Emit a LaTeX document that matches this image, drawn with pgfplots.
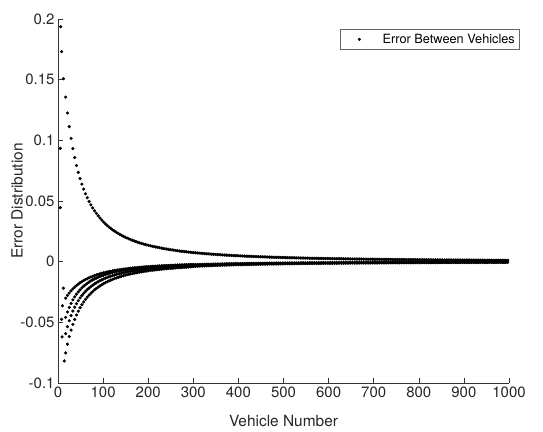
\documentclass[border=0pt]{standalone}
\usepackage{fontspec}
\setmainfont{TeX Gyre Heros}
\usepackage{pgfplots}
\usepackage{pgfplotstable}
\pgfplotsset{compat=1.18}

\pgfplotstableread{
x U L1 L2 L3 L4
17 0.1356 -0.0301 -0.0459 -0.0593 -0.0752
21 0.1225 -0.0278 -0.0415 -0.0536 -0.0680
25 0.1113 -0.0258 -0.0377 -0.0487 -0.0617
29 0.1016 -0.0240 -0.0344 -0.0444 -0.0564
33 0.0932 -0.0224 -0.0315 -0.0407 -0.0517
37 0.0858 -0.0210 -0.0290 -0.0375 -0.0476
41 0.0793 -0.0196 -0.0268 -0.0347 -0.0440
45 0.0736 -0.0185 -0.0249 -0.0322 -0.0408
49 0.0685 -0.0174 -0.0232 -0.0299 -0.0380
53 0.0639 -0.0164 -0.0216 -0.0279 -0.0355
57 0.0598 -0.0155 -0.0202 -0.0261 -0.0332
61 0.0560 -0.0147 -0.0190 -0.0245 -0.0311
65 0.0527 -0.0140 -0.0178 -0.0230 -0.0292
69 0.0496 -0.0133 -0.0168 -0.0217 -0.0275
73 0.0468 -0.0126 -0.0158 -0.0205 -0.0260
77 0.0443 -0.0120 -0.0150 -0.0194 -0.0246
81 0.0419 -0.0115 -0.0142 -0.0183 -0.0232
85 0.0398 -0.0109 -0.0135 -0.0174 -0.0221
89 0.0378 -0.0105 -0.0128 -0.0165 -0.0210
93 0.0360 -0.0100 -0.0122 -0.0157 -0.0200
97 0.0343 -0.0096 -0.0116 -0.0150 -0.0190
101 0.0327 -0.0092 -0.0111 -0.0143 -0.0181
105 0.0312 -0.0089 -0.0106 -0.0136 -0.0173
109 0.0299 -0.0085 -0.0101 -0.0131 -0.0166
113 0.0286 -0.0082 -0.0097 -0.0125 -0.0159
117 0.0274 -0.0079 -0.0093 -0.0120 -0.0152
121 0.0263 -0.0076 -0.0089 -0.0115 -0.0146
125 0.0253 -0.0073 -0.0086 -0.0111 -0.0140
129 0.0243 -0.0071 -0.0082 -0.0106 -0.0135
133 0.0234 -0.0068 -0.0079 -0.0102 -0.0130
137 0.0225 -0.0066 -0.0076 -0.0098 -0.0125
141 0.0217 -0.0064 -0.0073 -0.0095 -0.0120
145 0.0209 -0.0062 -0.0071 -0.0091 -0.0116
149 0.0202 -0.0060 -0.0068 -0.0088 -0.0112
153 0.0195 -0.0058 -0.0066 -0.0085 -0.0108
157 0.0188 -0.0056 -0.0064 -0.0082 -0.0104
161 0.0182 -0.0054 -0.0062 -0.0080 -0.0101
165 0.0176 -0.0053 -0.0060 -0.0077 -0.0098
169 0.0171 -0.0051 -0.0058 -0.0075 -0.0095
173 0.0165 -0.0050 -0.0056 -0.0072 -0.0092
177 0.0160 -0.0048 -0.0054 -0.0070 -0.0089
181 0.0155 -0.0047 -0.0052 -0.0068 -0.0086
185 0.0151 -0.0046 -0.0051 -0.0066 -0.0084
189 0.0146 -0.0045 -0.0049 -0.0064 -0.0081
193 0.0142 -0.0043 -0.0048 -0.0062 -0.0079
197 0.0138 -0.0042 -0.0047 -0.0060 -0.0077
201 0.0134 -0.0041 -0.0045 -0.0059 -0.0074
205 0.0131 -0.0040 -0.0044 -0.0057 -0.0073
209 0.0127 -0.0039 -0.0043 -0.0056 -0.0070
213 0.0124 -0.0038 -0.0042 -0.0054 -0.0069
217 0.0121 -0.0037 -0.0041 -0.0053 -0.0067
221 0.0118 -0.0036 -0.0040 -0.0052 -0.0065
225 0.0115 -0.0035 -0.0039 -0.0050 -0.0064
229 0.0112 -0.0035 -0.0038 -0.0049 -0.0062
233 0.0109 -0.0034 -0.0037 -0.0048 -0.0060
237 0.0106 -0.0033 -0.0036 -0.0046 -0.0059
241 0.0104 -0.0032 -0.0035 -0.0045 -0.0058
245 0.0101 -0.0032 -0.0034 -0.0044 -0.0056
249 0.0099 -0.0031 -0.0034 -0.0043 -0.0055
253 0.0097 -0.0030 -0.0033 -0.0042 -0.0054
257 0.0095 -0.0030 -0.0032 -0.0042 -0.0053
261 0.0092 -0.0029 -0.0031 -0.0040 -0.0051
265 0.0090 -0.0028 -0.0030 -0.0039 -0.0050
269 0.0088 -0.0028 -0.0030 -0.0038 -0.0049
273 0.0086 -0.0027 -0.0029 -0.0038 -0.0048
277 0.0085 -0.0027 -0.0029 -0.0037 -0.0047
281 0.0083 -0.0026 -0.0028 -0.0036 -0.0046
285 0.0081 -0.0026 -0.0027 -0.0035 -0.0045
289 0.0079 -0.0025 -0.0027 -0.0035 -0.0044
293 0.0078 -0.0025 -0.0026 -0.0034 -0.0043
297 0.0076 -0.0024 -0.0026 -0.0033 -0.0042
}\headtable

\pgfplotstableread{
x U La Lb
301 0.00747 -0.00247 -0.00389
305 0.00733 -0.00242 -0.00381
309 0.00720 -0.00238 -0.00374
313 0.00706 -0.00233 -0.00367
317 0.00693 -0.00229 -0.00360
321 0.00679 -0.00224 -0.00353
325 0.00666 -0.00220 -0.00346
329 0.00654 -0.00216 -0.00340
333 0.00643 -0.00212 -0.00334
337 0.00631 -0.00209 -0.00328
341 0.00620 -0.00205 -0.00322
345 0.00608 -0.00201 -0.00316
349 0.00598 -0.00198 -0.00311
353 0.00588 -0.00194 -0.00306
357 0.00577 -0.00191 -0.00300
361 0.00567 -0.00187 -0.00295
365 0.00557 -0.00184 -0.00290
369 0.00548 -0.00181 -0.00285
373 0.00539 -0.00178 -0.00281
377 0.00531 -0.00175 -0.00276
381 0.00522 -0.00172 -0.00272
385 0.00513 -0.00169 -0.00267
389 0.00505 -0.00167 -0.00263
393 0.00498 -0.00164 -0.00259
397 0.00490 -0.00162 -0.00255
401 0.00483 -0.00159 -0.00251
405 0.00475 -0.00157 -0.00247
409 0.00468 -0.00155 -0.00243
413 0.00461 -0.00152 -0.00240
417 0.00454 -0.00150 -0.00236
421 0.00447 -0.00147 -0.00233
425 0.00440 -0.00145 -0.00229
429 0.00434 -0.00143 -0.00226
433 0.00428 -0.00141 -0.00223
437 0.00422 -0.00139 -0.00219
441 0.00416 -0.00137 -0.00216
445 0.00410 -0.00135 -0.00213
449 0.00404 -0.00133 -0.00210
453 0.00399 -0.00131 -0.00207
457 0.00393 -0.00130 -0.00205
461 0.00388 -0.00128 -0.00202
465 0.00382 -0.00126 -0.00199
469 0.00377 -0.00124 -0.00196
473 0.00372 -0.00123 -0.00194
477 0.00367 -0.00121 -0.00191
481 0.00362 -0.00120 -0.00189
485 0.00357 -0.00118 -0.00186
489 0.00353 -0.00117 -0.00184
493 0.00348 -0.00115 -0.00181
497 0.00344 -0.00114 -0.00179
501 0.00339 -0.00112 -0.00176
505 0.00335 -0.00111 -0.00174
509 0.00331 -0.00110 -0.00172
513 0.00327 -0.00108 -0.00170
517 0.00323 -0.00107 -0.00168
521 0.00319 -0.00105 -0.00166
525 0.00315 -0.00104 -0.00164
529 0.00311 -0.00103 -0.00162
533 0.00308 -0.00102 -0.00160
537 0.00304 -0.00100 -0.00158
541 0.00301 -0.00099 -0.00156
545 0.00297 -0.00098 -0.00154
549 0.00294 -0.00097 -0.00152
553 0.00290 -0.00096 -0.00151
557 0.00287 -0.00094 -0.00149
561 0.00283 -0.00093 -0.00148
565 0.00280 -0.00092 -0.00146
569 0.00277 -0.00091 -0.00144
573 0.00274 -0.00090 -0.00143
577 0.00271 -0.00089 -0.00141
581 0.00268 -0.00088 -0.00140
585 0.00265 -0.00087 -0.00138
589 0.00262 -0.00086 -0.00137
593 0.00259 -0.00086 -0.00135
597 0.00257 -0.00085 -0.00134
601 0.00254 -0.00084 -0.00132
605 0.00251 -0.00083 -0.00131
609 0.00248 -0.00082 -0.00130
613 0.00246 -0.00081 -0.00128
617 0.00243 -0.00080 -0.00127
621 0.00241 -0.00080 -0.00125
625 0.00238 -0.00079 -0.00124
629 0.00236 -0.00078 -0.00123
633 0.00233 -0.00077 -0.00122
637 0.00231 -0.00076 -0.00120
641 0.00228 -0.00076 -0.00119
645 0.00226 -0.00075 -0.00118
649 0.00224 -0.00074 -0.00117
653 0.00222 -0.00073 -0.00115
657 0.00219 -0.00072 -0.00114
661 0.00217 -0.00072 -0.00113
665 0.00215 -0.00071 -0.00112
669 0.00213 -0.00070 -0.00111
673 0.00211 -0.00070 -0.00110
677 0.00209 -0.00069 -0.00109
681 0.00207 -0.00068 -0.00108
685 0.00205 -0.00068 -0.00107
689 0.00203 -0.00067 -0.00106
693 0.00201 -0.00066 -0.00105
697 0.00200 -0.00066 -0.00104
701 0.00198 -0.00065 -0.00103
705 0.00196 -0.00065 -0.00102
709 0.00194 -0.00064 -0.00101
713 0.00192 -0.00063 -0.00100
717 0.00191 -0.00063 -0.00099
721 0.00189 -0.00062 -0.00098
725 0.00187 -0.00062 -0.00097
729 0.00185 -0.00061 -0.00096
733 0.00184 -0.00061 -0.00095
737 0.00182 -0.00060 -0.00095
741 0.00181 -0.00060 -0.00094
745 0.00179 -0.00059 -0.00093
749 0.00177 -0.00058 -0.00092
753 0.00176 -0.00058 -0.00091
757 0.00174 -0.00057 -0.00091
761 0.00173 -0.00057 -0.00090
765 0.00171 -0.00056 -0.00089
769 0.00170 -0.00056 -0.00088
773 0.00168 -0.00055 -0.00087
777 0.00167 -0.00055 -0.00087
781 0.00165 -0.00055 -0.00086
785 0.00164 -0.00054 -0.00085
789 0.00163 -0.00054 -0.00084
793 0.00161 -0.00053 -0.00084
797 0.00160 -0.00053 -0.00083
801 0.00158 -0.00052 -0.00083
805 0.00157 -0.00052 -0.00082
809 0.00156 -0.00051 -0.00081
813 0.00155 -0.00051 -0.00081
817 0.00153 -0.00051 -0.00080
821 0.00152 -0.00050 -0.00080
825 0.00151 -0.00050 -0.00079
829 0.00150 -0.00049 -0.00078
833 0.00148 -0.00049 -0.00077
837 0.00147 -0.00049 -0.00077
841 0.00146 -0.00048 -0.00076
845 0.00145 -0.00048 -0.00075
849 0.00144 -0.00047 -0.00075
853 0.00143 -0.00047 -0.00074
857 0.00142 -0.00047 -0.00074
861 0.00141 -0.00046 -0.00073
865 0.00140 -0.00046 -0.00073
869 0.00139 -0.00046 -0.00072
873 0.00138 -0.00046 -0.00072
877 0.00137 -0.00045 -0.00071
881 0.00136 -0.00045 -0.00071
885 0.00135 -0.00045 -0.00070
889 0.00134 -0.00044 -0.00070
893 0.00133 -0.00044 -0.00069
897 0.00132 -0.00044 -0.00069
901 0.00131 -0.00043 -0.00068
905 0.00130 -0.00043 -0.00068
909 0.00129 -0.00043 -0.00067
913 0.00128 -0.00042 -0.00067
917 0.00127 -0.00042 -0.00066
921 0.00126 -0.00042 -0.00066
925 0.00125 -0.00041 -0.00065
929 0.00124 -0.00041 -0.00065
933 0.00123 -0.00041 -0.00064
937 0.00123 -0.00040 -0.00064
941 0.00122 -0.00040 -0.00063
945 0.00121 -0.00040 -0.00063
949 0.00120 -0.00040 -0.00063
953 0.00119 -0.00039 -0.00062
957 0.00119 -0.00039 -0.00062
961 0.00118 -0.00039 -0.00061
965 0.00117 -0.00039 -0.00061
969 0.00116 -0.00038 -0.00061
973 0.00115 -0.00038 -0.00060
977 0.00115 -0.00038 -0.00060
981 0.00114 -0.00037 -0.00059
985 0.00113 -0.00037 -0.00059
989 0.00112 -0.00037 -0.00058
993 0.00111 -0.00037 -0.00058
997 0.00111 -0.00036 -0.00058
}\tailtable

\begin{document}
\begin{tikzpicture}
\path[use as bounding box] (-58bp,-49bp) rectangle (485bp,383bp);
\begin{axis}[
  at={(0,0)}, anchor=south west,
  scale only axis, width=451bp, height=364bp,
  xmin=0, xmax=1000, ymin=-0.1, ymax=0.2,
  axis x line*=bottom, axis y line*=left,
  axis line style={black!80, line width=0.6bp},
  tick align=inside, major tick length=5bp,
  tick style={black!80, line width=0.6bp},
  xtick={0,100,200,300,400,500,600,700,800,900,1000},
  xticklabels={0,100,200,300,400,500,600,700,800,900,1000},
  ytick={-0.1,-0.05,0,0.05,0.1,0.15,0.2},
  yticklabels={-0.1,-0.05,0,0.05,0.1,0.15,0.2},
  tick label style={font=\fontsize{15}{17}\selectfont, text=black!85},
  xlabel={Vehicle Number}, ylabel={Error Distribution},
  every axis x label/.style={at={(axis description cs:0.5,-0.1044)}, anchor=center, font=\fontsize{15.5}{18}\selectfont, text=black!85},
  every axis y label/.style={at={(axis description cs:-0.0909,0.5)}, anchor=center, rotate=90, font=\fontsize{15.5}{18}\selectfont, text=black!85},
  clip=false,
  legend style={at={(axis description cs:0.625,0.9725)}, anchor=north west,
    draw=black!60, line width=0.5bp, font=\fontsize{12.8}{15}\selectfont,
    inner xsep=2bp, inner ysep=2.7bp},
  legend image code/.code={\fill (17bp,0) circle (1.3bp); \path (0,0) (38bp,0);},
  dots/.style={only marks, mark=*, mark size=1.4bp, color=black, mark options={draw=black, fill=black}},
]
\addplot[dots] table[x=x, y=U] {\headtable};
\addlegendentry{Error Between Vehicles}
\addplot[dots, forget plot] table[x=x, y=L1] {\headtable};
\addplot[dots, forget plot] table[x=x, y=L2] {\headtable};
\addplot[dots, forget plot] table[x=x, y=L3] {\headtable};
\addplot[dots, forget plot] table[x=x, y=L4] {\headtable};
\addplot[dots, forget plot] table[x=x, y=U] {\tailtable};
\addplot[dots, forget plot] table[x=x, y=La] {\tailtable};
\addplot[dots, forget plot] table[x=x, y=Lb] {\tailtable};
\addplot[dots, forget plot] coordinates {(6,0.1937) (8,0.1731) (12,0.1508) (5,0.0934) (5,0.0445) (12,-0.0219) (10,-0.0363) (8,-0.0475) (9,-0.0620) (14,-0.0818)};
\end{axis}
\end{tikzpicture}
\end{document}
